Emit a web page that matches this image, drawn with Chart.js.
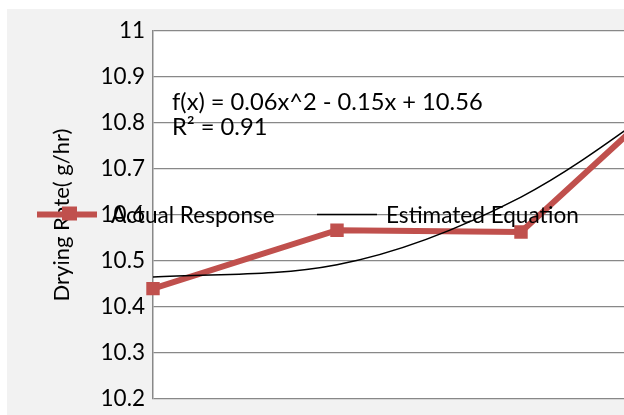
<!DOCTYPE html>
<html>
<head>
<meta charset="utf-8">
<script src="https://cdn.jsdelivr.net/npm/chart.js@4"></script>
<style>
  html, body { margin: 0; padding: 0; background: #fff; overflow: hidden; }
  #panel { position: absolute; left: 7px; top: 9px; width: 760px; height: 420px; background: #f2f2f2; }
</style>
</head>
<body>
<div id="panel"><canvas id="grafico"></canvas></div>
<script>
// ── Datos ─────────────────────────────
const categorias   = ['1', '2', '3', '4']
const respuesta    = [10.44, 10.567, 10.563, 10.93]   // Actual Response
const estimado     = [10.465, 10.492, 10.639, 10.906] // Estimated Equation (trendline)
const ecuacion     = ['f(x) = 0.06x^2 - 0.15x + 10.56', 'R² = 0.91']
const yMin = 10.2, yMax = 11, yPaso = 0.1

const FUENTE = "Lato, 'Open Sans', sans-serif"
Chart.defaults.font.family = FUENTE
Chart.defaults.color = '#000'

// fondo blanco del área de trazado
const fondoArea = {
  id: 'fondoArea',
  beforeDraw(chart) {
    const { ctx, chartArea: a } = chart
    ctx.save()
    ctx.fillStyle = '#fff'
    ctx.fillRect(a.left, a.top, a.right - a.left, a.bottom - a.top)
    ctx.restore()
  }
}

// ecuación y leyenda superpuestas (como en el original)
const textos = {
  id: 'textos',
  afterDraw(chart) {
    const { ctx, chartArea: a } = chart
    ctx.save()
    ctx.font = '23.7px ' + FUENTE
    ctx.fillStyle = '#000'
    ctx.textBaseline = 'alphabetic'
    ecuacion.forEach((t, i) => ctx.fillText(t, a.left + 19, a.top + 79 + i * 25))

    // leyenda
    const ds = chart.data.datasets
    const y = a.top + 183.5
    const items = [{ x: 30, tx: 104, ds: ds[0] }, { x: 310, tx: 379, ds: ds[1] }]
    ctx.font = '22.6px ' + FUENTE
    items.forEach(it => {
      ctx.strokeStyle = it.ds.borderColor
      ctx.lineWidth = it.ds.borderWidth
      ctx.beginPath()
      ctx.moveTo(it.x, y)
      ctx.lineTo(it.x + 60, y)
      ctx.stroke()
      if (it.ds.pointRadius > 0) {
        ctx.fillStyle = it.ds.borderColor
        ctx.fillRect(it.x + 25, y - 8, 15, 14)
      }
      ctx.fillStyle = '#000'
      ctx.textBaseline = 'middle'
      ctx.fillText(it.ds.label, it.tx, y + 1)
    })
    ctx.restore()
  }
}

new Chart(document.getElementById('grafico'), {
  type: 'line',
  data: {
    labels: categorias,
    datasets: [
      {
        label: 'Actual Response',
        data: respuesta,
        borderColor: '#c0504d',
        backgroundColor: '#c0504d',
        borderWidth: 6,
        pointStyle: 'rect',
        pointRadius: 9.5,
        pointBorderWidth: 0,
        tension: 0,
        order: 2
      },
      {
        label: 'Estimated Equation',
        data: estimado,
        borderColor: '#000',
        borderWidth: 1.5,
        pointRadius: 0,
        cubicInterpolationMode: 'monotone',
        order: 1
      }
    ]
  },
  options: {
    responsive: true,
    maintainAspectRatio: false,
    animation: false,
    layout: { padding: { left: 0, top: 22, right: 62, bottom: 30 } },
    plugins: { legend: { display: false }, tooltip: { enabled: false } },
    scales: {
      x: { display: false, offset: false },
      y: {
        min: yMin,
        max: yMax,
        ticks: {
          stepSize: yPaso,
          padding: 8,
          font: { size: 22.5 },
          color: '#000',
          callback: v => String(Number(v.toFixed(1)))
        },
        grid: { color: '#888', lineWidth: 1.2, drawTicks: false },
        border: { color: '#888', width: 1.5 },
        title: {
          display: true,
          text: 'Drying Rate( g/hr)',
          font: { size: 22 },
          color: '#000',
          padding: { top: 42, bottom: 0 }
        },
        afterFit(scale) { scale.width = 146 }
      }
    }
  },
  plugins: [fondoArea, textos]
})
</script>
</body>
</html>
